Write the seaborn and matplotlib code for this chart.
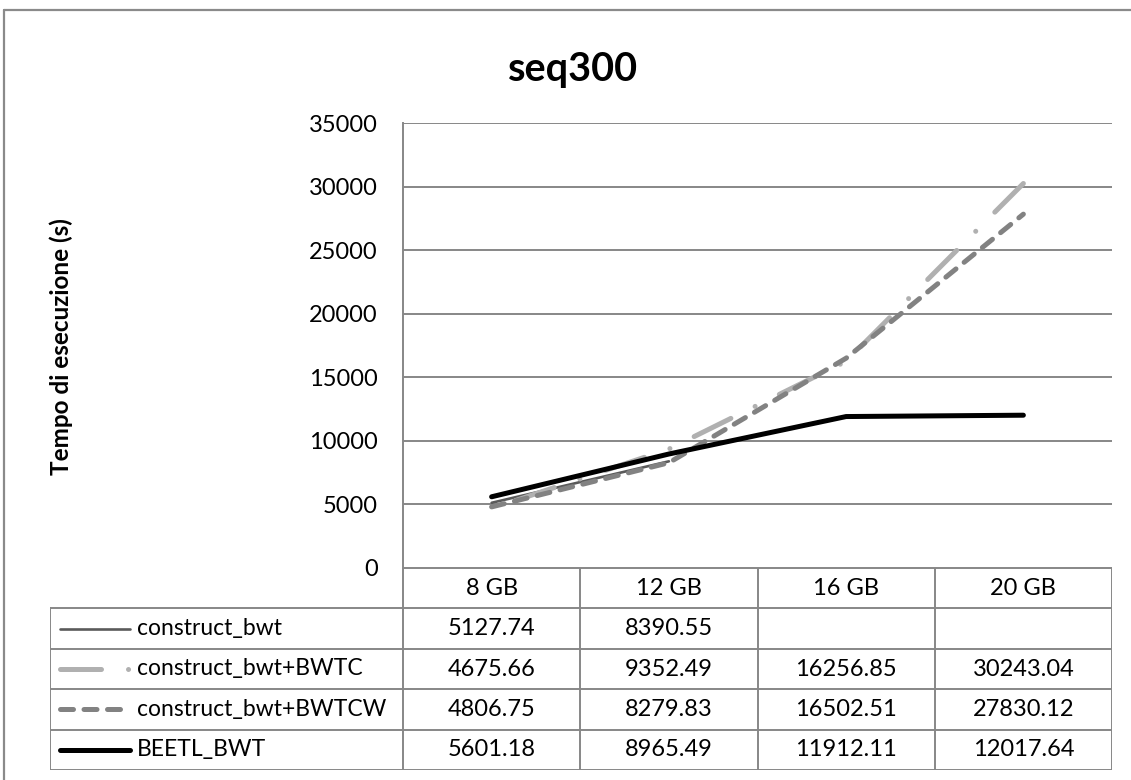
import numpy as np
import pandas as pd
import matplotlib
matplotlib.use("Agg")
import matplotlib.pyplot as plt
from matplotlib.lines import Line2D
import seaborn as sns

# Data
categories = ["8 GB", "12 GB", "16 GB", "20 GB"]
series_names = ["construct_bwt", "construct_bwt+BWTC", "construct_bwt+BWTCW", "BEETL_BWT"]
construct_bwt = [5127.74, 8390.55, np.nan, np.nan]
construct_bwt_bwtc = [4675.66, 9352.49, 16256.85, 30243.04]
construct_bwt_bwtcw = [4806.75, 8279.83, 16502.51, 27830.12]
beetl_bwt = [5601.18, 8965.49, 11912.11, 12017.64]
y_ticks = [0, 5000, 10000, 15000, 20000, 25000, 30000, 35000]
title = "seq300"
y_label = "Tempo di esecuzione (s)"

values = [construct_bwt, construct_bwt_bwtc, construct_bwt_bwtcw, beetl_bwt]

sns.set_theme(style="white")
plt.rcParams["font.family"] = ["Lato", "DejaVu Sans"]

W, H = 1131, 780
fig = plt.figure(figsize=(W / 100, H / 100), dpi=100)
fig.patch.set_facecolor("white")

grid_col = "#878787"
fs = 17

# Series styles: thin dark grey, long-dash-dot light grey, dashed grey, thick black
styles = [
    dict(color="#5a5a5a", lw=1.9, ls="-"),
    dict(color="#b0b0b0", lw=3.6, ls=(14.0, (8.2, 5.4, 0.01, 5.4))),
    dict(color="#828282", lw=3.6, ls=(0, (2.6, 2.1))),
    dict(color="#000000", lw=3.6, ls="-"),
]
key_styles = [
    dict(color="#5a5a5a", lw=1.9, ls="-"),
    dict(color="#b0b0b0", lw=3.6, ls=(0, (8.2, 5.4, 0.01, 5.4))),
    dict(color="#828282", lw=3.6, ls=(0, (2.6, 2.1))),
    dict(color="#000000", lw=3.6, ls="-"),
]

# Chart area
left_px, right_px, top_px, bottom_px = 403, 1112, 123, 568
ax = fig.add_axes([left_px / W, 1 - bottom_px / H,
                   (right_px - left_px) / W, (bottom_px - top_px) / H])

x_pos = np.arange(len(categories))
for name, vals, st in zip(series_names, values, styles):
    df = pd.DataFrame({"x": x_pos, "y": vals}).dropna()
    sns.lineplot(data=df, x="x", y="y", ax=ax, color=st["color"],
                 linewidth=st["lw"], linestyle=st["ls"],
                 dash_capstyle="round", solid_capstyle="round",
                 solid_joinstyle="round", legend=False)

ax.set_xlim(-0.5, len(categories) - 0.5)
ax.set_ylim(0, 35000)
ax.set_yticks(y_ticks)
ax.set_yticklabels([str(t) for t in y_ticks], fontsize=fs, color="#000000")
ax.set_xticks([])
ax.set_xlabel("")
ax.set_ylabel("")
ax.tick_params(axis="y", length=0, pad=18)
for t in y_ticks:
    ax.axhline(t, color=grid_col, lw=1.4, zorder=0)
for s in ["top", "right", "bottom"]:
    ax.spines[s].set_visible(False)
ax.spines["left"].set_color(grid_col)
ax.spines["left"].set_linewidth(1.4)
ax.set_facecolor("white")

# Data table beneath the chart
unit_px = (right_px - left_px) / len(categories)
tab_left_px, tab_bottom_px = 50, 770
tax = fig.add_axes([tab_left_px / W, 1 - tab_bottom_px / H,
                    (right_px - tab_left_px) / W, (tab_bottom_px - bottom_px) / H])
x0 = -0.5 - (left_px - tab_left_px) / unit_px
x_end = len(categories) - 0.5
nrows = len(series_names) + 1
tax.set_xlim(x0, x_end)
tax.set_ylim(nrows, 0)
tax.axis("off")

lkw = dict(color=grid_col, lw=1.4, solid_capstyle="projecting")
# horizontal rules
tax.plot([-0.5, x_end], [0, 0], **lkw)
for r in range(1, nrows + 1):
    tax.plot([x0, x_end], [r, r], **lkw)
# vertical rules
for c in range(len(categories) + 1):
    tax.plot([c - 0.5, c - 0.5], [0, nrows], **lkw)
tax.plot([x0, x0], [1, nrows], **lkw)

for i, cat in enumerate(categories):
    tax.text(i, 0.5, cat, ha="center", va="center", fontsize=fs, color="black")

for r, (name, vals, st) in enumerate(zip(series_names, values, key_styles), start=1):
    yc = r + 0.5
    k0 = x0 + 10 / unit_px
    k1 = x0 + 80 / unit_px
    tax.plot([k0, k1], [yc, yc], color=st["color"], lw=st["lw"], ls=st["ls"],
             dash_capstyle="round", solid_capstyle="round")
    tax.text(x0 + 87 / unit_px, yc, name, ha="left", va="center",
             fontsize=16.5, color="black")
    for i, v in enumerate(vals):
        if not np.isnan(v):
            tax.text(i, yc, f"{v:.2f}", ha="center", va="center",
                     fontsize=fs, color="black")

# Title and axis label
fig.text(573 / W, 1 - 70 / H, title, ha="center", va="center",
         fontsize=28.5, fontweight="bold", color="black")
fig.text(61 / W, 1 - 347 / H, y_label, ha="center", va="center",
         rotation=90, fontsize=17.5, fontweight="bold", color="black")

# Chart frame
fcol = "#8a8a8a"
fig.add_artist(Line2D([4 / W, 4 / W], [0, 1 - 10 / H], color=fcol, lw=1.6,
                      transform=fig.transFigure))
fig.add_artist(Line2D([4 / W, 1], [1 - 10 / H, 1 - 10 / H], color=fcol, lw=1.6,
                      transform=fig.transFigure))

fig.savefig("out.png", dpi=100, facecolor="white")
